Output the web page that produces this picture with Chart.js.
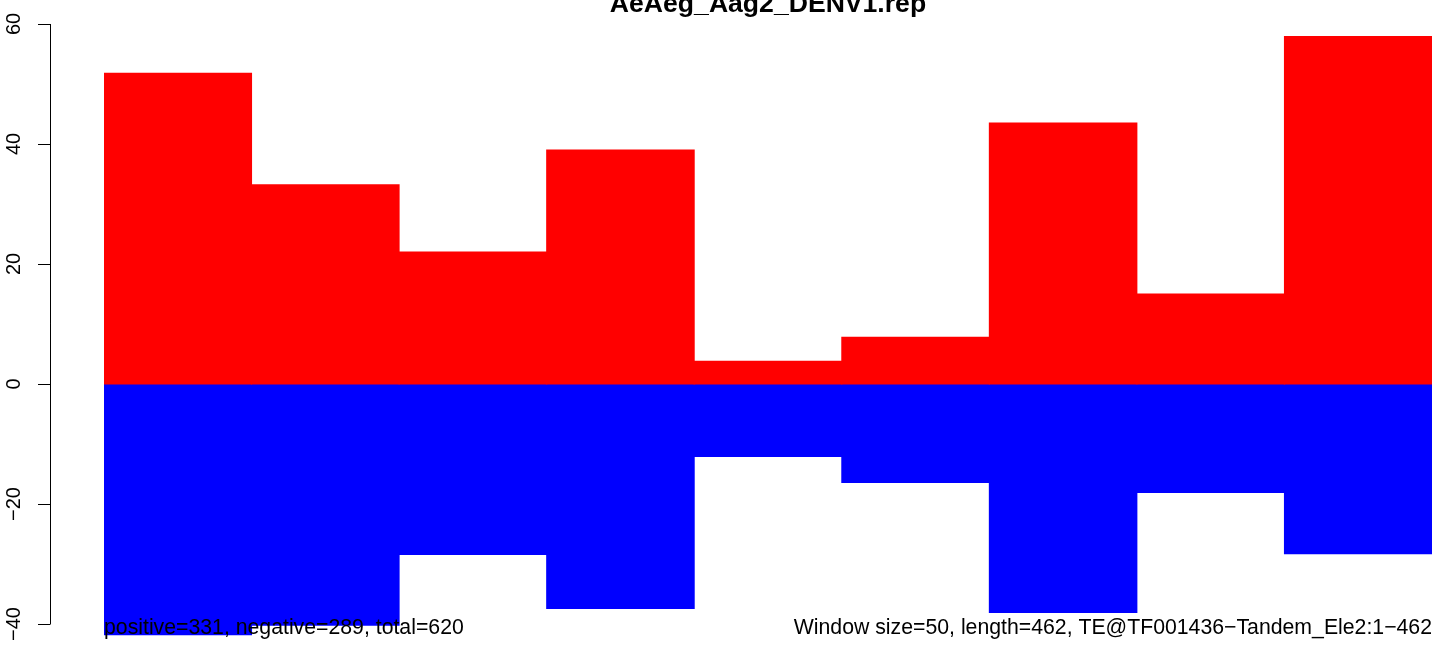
<!DOCTYPE html>
<html>
<head>
<meta charset="utf-8">
<script src="https://cdn.jsdelivr.net/npm/chart.js@4/dist/chart.umd.min.js"></script>
<style>
  html, body { margin: 0; padding: 0; background: #fff; }
  canvas { display: block; }
</style>
</head>
<body>
<canvas id="myChart" width="1436" height="646"></canvas>
<script>
  // one window per bar (window size 50 over length 462)
  const windows = ['1', '2', '3', '4', '5', '6', '7', '8', '9'];
  const positive = [51.8, 33.2, 22.0, 39.0, 3.8, 7.8, 43.5, 15.0, 57.9];
  const negative = [-41.8, -40.2, -28.4, -37.4, -12.1, -16.4, -38.1, -18.1, -28.3];
  const yTicks = [-40, -20, 0, 20, 40, 60];

  const titleText = 'AeAeg_Aag2_DENV1.rep';
  const leftNote = 'positive=331, negative=289, total=620';
  const rightNote = 'Window size=50, length=462, TE@TF001436\u2212Tandem_Ele2:1\u2212462';

  const font = '"Liberation Sans", Arial, Helvetica, sans-serif';

  // R style axis + texts drawn on top of the bars
  const rDecor = {
    id: 'rDecor',
    afterDraw(chart) {
      const ctx = chart.ctx;
      const y = chart.scales.y;
      const axisX = 50.5;
      ctx.save();
      ctx.strokeStyle = '#000';
      ctx.lineWidth = 1;
      ctx.beginPath();
      ctx.moveTo(axisX, y.getPixelForValue(yTicks[0]));
      ctx.lineTo(axisX, y.getPixelForValue(yTicks[yTicks.length - 1]));
      yTicks.forEach(t => {
        const py = Math.round(y.getPixelForValue(t)) + 0.5;
        ctx.moveTo(axisX, py);
        ctx.lineTo(38, py);
      });
      ctx.stroke();

      ctx.fillStyle = '#000';
      ctx.font = '20px ' + font;
      ctx.textAlign = 'center';
      ctx.textBaseline = 'middle';
      yTicks.forEach(t => {
        const py = y.getPixelForValue(t);
        ctx.save();
        ctx.translate(14, py);
        ctx.rotate(-Math.PI / 2);
        ctx.fillText(t < 0 ? '\u2212' + Math.abs(t) : String(t), 0, 0);
        ctx.restore();
      });

      ctx.textBaseline = 'alphabetic';
      ctx.font = 'bold 26.6px ' + font;
      ctx.fillText(titleText, 768, 12);

      ctx.font = '21.25px ' + font;
      ctx.textAlign = 'left';
      ctx.fillText(leftNote, 104, 634);
      ctx.textAlign = 'right';
      ctx.fillText(rightNote, 1432, 634);
      ctx.restore();
    }
  };

  const config = {
    type: 'bar',
    data: {
      labels: windows,
      datasets: [{
        label: 'positive',
        data: positive,
        backgroundColor: '#ff0000',
        borderWidth: 0,
        inflateAmount: 0.5,
        barPercentage: 1,
        categoryPercentage: 1
      }, {
        label: 'negative',
        data: negative,
        backgroundColor: '#0000ff',
        borderWidth: 0,
        inflateAmount: 0.5,
        barPercentage: 1,
        categoryPercentage: 1
      }]
    },
    options: {
      responsive: false,
      animation: false,
      devicePixelRatio: 1,
      layout: {
        padding: { left: 104, right: 4, top: 0, bottom: 0 }
      },
      plugins: {
        legend: { display: false },
        title: { display: false },
        tooltip: { enabled: false }
      },
      scales: {
        x: {
          display: false,
          stacked: true,
          grid: { display: false }
        },
        y: {
          display: false,
          stacked: true,
          min: -43.667,
          max: 64,
          grid: { display: false }
        }
      }
    },
    plugins: [rDecor]
  };

  const myChart = new Chart(
    document.getElementById('myChart'),
    config
  );
</script>
</body>
</html>
